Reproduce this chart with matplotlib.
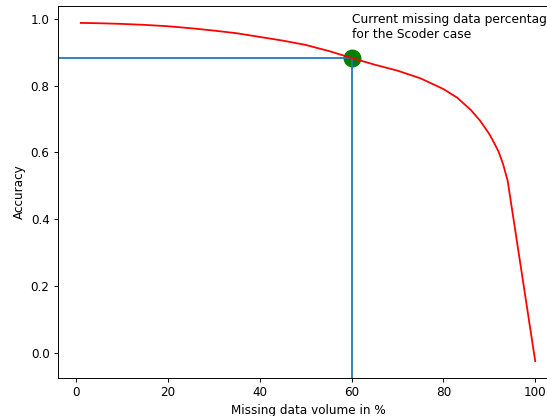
#!/usr/bin/env python3
import matplotlib
matplotlib.use('Agg')
import matplotlib.pyplot as plt

# accuracy vs. share of missing data
missing_pct = [1, 5, 10, 15, 20, 25, 30, 35, 40, 45, 50, 55, 60, 65, 70,
               75, 80, 83, 86, 88, 90, 91, 92, 93, 94, 100]
accuracy = [0.988, 0.987, 0.985, 0.982, 0.978, 0.972, 0.965, 0.957, 0.946,
            0.935, 0.922, 0.904, 0.883, 0.863, 0.845, 0.822, 0.790, 0.764,
            0.727, 0.695, 0.655, 0.630, 0.603, 0.565, 0.515, -0.025]

# the Scoder case
current_pct = 60
current_acc = 0.883

dpi = 86
fig = plt.figure(figsize=(547 / dpi, 416 / dpi), dpi=dpi, facecolor='white')
ax = fig.add_axes([0.106, 0.0913, 0.914, 0.8943])

ax.plot(missing_pct, accuracy, color='red', zorder=3)
ax.plot(current_pct, current_acc, 'o', color='green', markersize=14, zorder=1)

ymin, ymax = ax.get_ylim()
xmin, xmax = ax.get_xlim()
ax.vlines(current_pct, ymin, current_acc, color='tab:blue', zorder=2)
ax.hlines(current_acc, xmin, current_pct, color='tab:blue', zorder=2)
ax.set_ylim(ymin, ymax)
ax.set_xlim(xmin, xmax)

ax.text(current_pct, 0.943, 'Current missing data percentage\nfor the Scoder case',
        fontsize=10.3)
ax.set_xlabel('Missing data volume in %')
ax.set_ylabel('Accuracy')

fig.savefig('out.png', dpi=dpi)
